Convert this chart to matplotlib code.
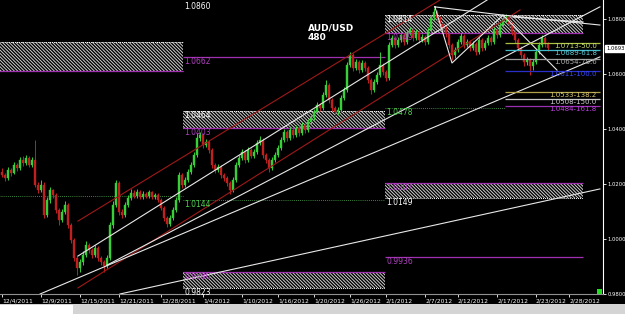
import matplotlib
matplotlib.use('Agg')
import matplotlib.pyplot as plt
from matplotlib.patches import Rectangle

plt.rcParams['hatch.linewidth'] = 0.7

# AUD/USD 480 min bars, 12/4/2011 - 2/22/2012
first_open = 1.0245
closes = [1.0233, 1.0222, 1.0251, 1.0240, 1.0269, 1.0258, 1.0287, 1.0276, 1.0294, 1.0269,
          1.0287, 1.0196, 1.0178, 1.0196, 1.0087, 1.0142, 1.0178, 1.0160, 1.0105, 1.0069,
          1.0098, 1.0124, 1.0051, 0.9996, 0.9931, 0.9894, 0.9916, 0.9942, 0.9978, 0.9960,
          0.9942, 0.9967, 0.9931, 0.9916, 0.9902, 0.9931, 1.0051, 1.0124, 1.0203, 1.0098,
          1.0087, 1.0124, 1.0149, 1.0167, 1.0156, 1.0171, 1.0153, 1.0164, 1.0156, 1.0171,
          1.0153, 1.0160, 1.0142, 1.0113, 1.0076, 1.0054, 1.0076, 1.0105, 1.0142, 1.0233,
          1.0196, 1.0214, 1.0244, 1.0269, 1.0305, 1.0367, 1.0378, 1.0342, 1.0353, 1.0324,
          1.0269, 1.0251, 1.0262, 1.0233, 1.0222, 1.0203, 1.0178, 1.0214, 1.0269, 1.0294,
          1.0316, 1.0287, 1.0324, 1.0302, 1.0316, 1.0349, 1.0360, 1.0305, 1.0287, 1.0258,
          1.0287, 1.0305, 1.0331, 1.0360, 1.0389, 1.0367, 1.0396, 1.0378, 1.0403, 1.0385,
          1.0414, 1.0396, 1.0425, 1.0440, 1.0462, 1.0487, 1.0476, 1.0524, 1.0560, 1.0505,
          1.0476, 1.0462, 1.0469, 1.0513, 1.0542, 1.0633, 1.0669, 1.0622, 1.0644, 1.0614,
          1.0640, 1.0622, 1.0578, 1.0542, 1.0571, 1.0596, 1.0633, 1.0607, 1.0585, 1.0705,
          1.0731, 1.0705, 1.0724, 1.0742, 1.0716, 1.0749, 1.0760, 1.0731, 1.0753, 1.0724,
          1.0734, 1.0716, 1.0760, 1.0804, 1.0825, 1.0804, 1.0782, 1.0767, 1.0745, 1.0705,
          1.0669, 1.0687, 1.0716, 1.0738, 1.0705, 1.0716, 1.0694, 1.0709, 1.0680, 1.0724,
          1.0694, 1.0713, 1.0731, 1.0716, 1.0760, 1.0742, 1.0778, 1.0796, 1.0804, 1.0782,
          1.0753, 1.0724, 1.0694, 1.0669, 1.0644, 1.0651, 1.0629, 1.0644, 1.0680, 1.0705,
          1.0731, 1.0709, 1.0693]
highs = [1.0258, 1.0240, 1.0262, 1.0258, 1.0280, 1.0276, 1.0298, 1.0302, 1.0305, 1.0302,
         1.0298, 1.0360, 1.0207, 1.0214, 1.0207, 1.0153, 1.0189, 1.0182, 1.0167, 1.0113,
         1.0109, 1.0138, 1.0131, 1.0058, 1.0003, 0.9938, 0.9927, 0.9956, 0.9993, 0.9985,
         0.9967, 0.9978, 0.9974, 0.9938, 0.9924, 0.9942, 1.0062, 1.0138, 1.0214, 1.0211,
         1.0109, 1.0135, 1.0160, 1.0182, 1.0178, 1.0182, 1.0178, 1.0175, 1.0171, 1.0178,
         1.0175, 1.0167, 1.0167, 1.0149, 1.0120, 1.0084, 1.0087, 1.0116, 1.0153, 1.0244,
         1.0240, 1.0225, 1.0255, 1.0280, 1.0316, 1.0385, 1.0389, 1.0385, 1.0364, 1.0360,
         1.0331, 1.0276, 1.0273, 1.0269, 1.0240, 1.0229, 1.0211, 1.0225, 1.0280, 1.0305,
         1.0327, 1.0324, 1.0334, 1.0331, 1.0327, 1.0360, 1.0374, 1.0367, 1.0313, 1.0294,
         1.0298, 1.0316, 1.0342, 1.0371, 1.0400, 1.0396, 1.0407, 1.0403, 1.0414, 1.0411,
         1.0425, 1.0422, 1.0436, 1.0451, 1.0473, 1.0498, 1.0495, 1.0535, 1.0578, 1.0567,
         1.0513, 1.0484, 1.0480, 1.0524, 1.0553, 1.0644, 1.0680, 1.0676, 1.0655, 1.0651,
         1.0651, 1.0647, 1.0629, 1.0585, 1.0582, 1.0607, 1.0680, 1.0640, 1.0614, 1.0716,
         1.0742, 1.0738, 1.0734, 1.0753, 1.0749, 1.0760, 1.0771, 1.0767, 1.0764, 1.0760,
         1.0745, 1.0742, 1.0771, 1.0814, 1.0840, 1.0833, 1.0811, 1.0789, 1.0775, 1.0753,
         1.0713, 1.0698, 1.0727, 1.0749, 1.0745, 1.0727, 1.0724, 1.0720, 1.0716, 1.0734,
         1.0731, 1.0724, 1.0742, 1.0738, 1.0771, 1.0767, 1.0789, 1.0807, 1.0818, 1.0811,
         1.0789, 1.0760, 1.0731, 1.0702, 1.0676, 1.0662, 1.0658, 1.0655, 1.0691, 1.0716,
         1.0742, 1.0738, 1.0716]
lows = [1.0225, 1.0211, 1.0215, 1.0229, 1.0236, 1.0247, 1.0251, 1.0265, 1.0269, 1.0262,
        1.0262, 1.0189, 1.0167, 1.0171, 1.0076, 1.0080, 1.0131, 1.0149, 1.0094, 1.0051,
        1.0062, 1.0091, 1.0040, 0.9985, 0.9920, 0.9869, 0.9880, 0.9905, 0.9934, 0.9949,
        0.9931, 0.9934, 0.9920, 0.9905, 0.9880, 0.9894, 0.9924, 1.0040, 1.0116, 1.0087,
        1.0076, 1.0080, 1.0116, 1.0142, 1.0149, 1.0149, 1.0145, 1.0145, 1.0149, 1.0149,
        1.0145, 1.0145, 1.0134, 1.0105, 1.0065, 1.0043, 1.0047, 1.0069, 1.0098, 1.0134,
        1.0185, 1.0189, 1.0207, 1.0236, 1.0262, 1.0298, 1.0356, 1.0331, 1.0334, 1.0313,
        1.0258, 1.0240, 1.0244, 1.0222, 1.0211, 1.0192, 1.0164, 1.0171, 1.0207, 1.0262,
        1.0287, 1.0276, 1.0280, 1.0294, 1.0294, 1.0309, 1.0342, 1.0294, 1.0276, 1.0244,
        1.0251, 1.0280, 1.0298, 1.0324, 1.0353, 1.0356, 1.0360, 1.0367, 1.0371, 1.0374,
        1.0378, 1.0385, 1.0389, 1.0418, 1.0433, 1.0455, 1.0465, 1.0469, 1.0516, 1.0495,
        1.0465, 1.0447, 1.0451, 1.0462, 1.0505, 1.0535, 1.0625, 1.0611, 1.0614, 1.0604,
        1.0607, 1.0611, 1.0567, 1.0527, 1.0535, 1.0564, 1.0589, 1.0596, 1.0575, 1.0578,
        1.0698, 1.0694, 1.0698, 1.0716, 1.0705, 1.0709, 1.0742, 1.0720, 1.0724, 1.0713,
        1.0716, 1.0705, 1.0709, 1.0753, 1.0796, 1.0793, 1.0771, 1.0756, 1.0734, 1.0694,
        1.0651, 1.0658, 1.0680, 1.0709, 1.0694, 1.0698, 1.0684, 1.0687, 1.0669, 1.0673,
        1.0684, 1.0687, 1.0705, 1.0705, 1.0709, 1.0731, 1.0734, 1.0771, 1.0789, 1.0771,
        1.0742, 1.0713, 1.0684, 1.0658, 1.0629, 1.0633, 1.0596, 1.0614, 1.0636, 1.0673,
        1.0698, 1.0698, 1.0684]
opens = [first_open] + closes[:-1]
last_price = 1.0693

date_bars = [0, 13, 26, 39, 53, 67, 80, 92, 104, 116, 128, 141, 152, 165, 178, 189]
date_labels = ['12/4/2011', '12/9/2011', '12/15/2011', '12/21/2011', '12/28/2011',
               '1/4/2012', '1/10/2012', '1/16/2012', '1/20/2012', '1/26/2012', '2/1/2012',
               '2/7/2012', '2/12/2012', '2/17/2012', '2/23/2012', '2/28/2012']
price_ticks = [0.98, 1.00, 1.02, 1.04, 1.06, 1.08]

# hatched zones: x0, x1 (bars), top, bottom
zone_x0 = [-1, 60.3, 127.7, 127.7, 60.3]
zone_x1 = [60.3, 127.7, 193.7, 193.7, 127.7]
zone_top = [1.0716, 1.0464, 1.0814, 1.0204, 0.9880]
zone_bot = [1.0611, 1.0403, 1.0749, 1.0149, 0.9823]
zone_purple = [1.0611, 1.0403, 1.0749, 1.0204, 0.9880]

# level labels: bar, price, text, colour
lvl_bar = [60.3, 60.3, 60.3, 60.3, 60.3, 60.3, 60.3, 127.7, 127.7, 127.7, 127.7, 127.7, 127.7]
lvl_price = [1.0860, 1.0662, 1.0464, 1.0403, 1.0142, 0.9880, 0.9823,
             1.0814, 1.0749, 1.0478, 1.0204, 1.0149, 0.9936]
lvl_text = ['1.0860', '1.0662', '1.0464', '1.0403', '1.0144', '0.9880', '0.9823',
            '1.0814', '1.0749', '1.0478', '1.0207', '1.0149', '0.9936']
lvl_color = ['white', '#b040c0', 'white', '#b040c0', '#50d050', '#b040c0', 'white',
             'white', '#b040c0', '#50d050', '#b040c0', 'white', '#b040c0']

# fibonacci levels
fib_price = [1.0713, 1.0689, 1.0654, 1.0611, 1.0533, 1.0508, 1.0484]
fib_text = ['1.0713-50.0', '1.0689-61.8', '1.0654-78.6', '1.0611-100.0',
            '1.0533-138.2', '1.0508-150.0', '1.0484-161.8']
fib_line_col = ['#a8c040', '#40b8c8', '#a0a0a0', '#2830c8', '#b0a048', '#c8c8c8', '#9830b0']
fib_text_col = ['#c8e070', '#60d0e0', '#b0b0b0', '#3848ff', '#d8c870', '#d0d0d0', '#c040e0']

# trend lines: (bar, price) pairs
red_lines = [[(25.3, 1.0065), (146, 1.0869)],
             [(25.3, 0.9822), (172.7, 1.0833)]]
white_lines = [[(25.3, 0.9938), (161.7, 1.0869)],
               [(12.7, 0.9800), (199.3, 1.0662)],
               [(35.0, 0.9905), (199.3, 1.0844)],
               [(39.3, 0.9800), (199.3, 1.0182)],
               [(144.3, 1.0844), (150, 1.0640), (167, 1.0814), (144.3, 1.0844)],
               [(167, 1.0814), (185, 1.0614)],
               [(167, 1.0814), (199.3, 1.0778)],
               [(170.3, 1.0807), (193.7, 1.0789)]]

fig = plt.figure(figsize=(6.25, 3.14), dpi=100, facecolor='black')
ax = fig.add_axes([0, 20 / 314, 603 / 625, 294 / 314])
ax.set_facecolor('black')
ax.set_xlim(-2 / 3, 601 / 3)
ax.set_ylim(0.98, 1.0869)

for x0, x1, t, b, p in zip(zone_x0, zone_x1, zone_top, zone_bot, zone_purple):
    ax.add_patch(Rectangle((x0, b), x1 - x0, t - b, facecolor='none', edgecolor='#d0d0d0',
                           hatch='\\' * 10, linewidth=0, zorder=1))
    ax.hlines([t, b], x0, x1, colors='white', linestyles=(0, (1, 1)), linewidth=0.7, zorder=1)
    ax.hlines(p, x0, x1, colors='#a030b0', linewidth=0.9, zorder=1)

ax.hlines(1.0662, 60.3, 127.7, colors='#a030b0', linewidth=0.9)
ax.hlines(0.9936, 127.7, 193.7, colors='#a030b0', linewidth=0.9)
ax.hlines(1.0158, -1, 60.3, colors='#50b050', linestyles=(0, (1, 1.5)), linewidth=0.6)
ax.hlines(1.0142, 60.3, 127.7, colors='#50b050', linestyles=(0, (1, 1.5)), linewidth=0.6)
ax.hlines(1.0478, 127.7, 167.7, colors='#50b050', linestyles=(0, (1, 1.5)), linewidth=0.6)

for b, p, t, c in zip(lvl_bar, lvl_price, lvl_text, lvl_color):
    ax.text(b + 0.4, p, t, color=c, fontsize=5.5, va='top', ha='left', zorder=5)

for p, t, lc, tc in zip(fib_price, fib_text, fib_line_col, fib_text_col):
    ax.hlines(p, 167.7, 199.3, colors=lc, linewidth=0.9, zorder=4)
    ax.text(198.3, p, t, color=tc, fontsize=5, va='top', ha='right', zorder=5)

# candles
for i, (o, h, l, c) in enumerate(zip(opens, highs, lows, closes)):
    col = '#38d038' if c >= o else '#c02020'
    ax.vlines(i, l, h, colors=col, linewidth=0.7, zorder=2)
    ax.bar(i, abs(c - o) if c != o else 0.0002, bottom=min(o, c), width=0.65,
           color=col, edgecolor=col, linewidth=0.3, zorder=2)

for ln in red_lines:
    xs, ys = zip(*ln)
    ax.plot(xs, ys, color='#a01818', linewidth=0.8, zorder=3)
for ln in white_lines:
    xs, ys = zip(*ln)
    ax.plot(xs, ys, color='#e8e8e8', linewidth=0.8, zorder=3)

ax.text(102, 1.0785, 'AUD/USD\n480', color='white', fontsize=6.5, fontweight='bold',
        va='top', ha='left', linespacing=1.1, zorder=5)

# axes
for s in ['left', 'top']:
    ax.spines[s].set_visible(False)
ax.spines['right'].set_color('white')
ax.spines['right'].set_linewidth(0.8)
ax.spines['bottom'].set_color('#909090')
ax.spines['bottom'].set_linewidth(0.8)
ax.yaxis.tick_right()
ax.set_yticks(price_ticks)
ax.set_yticklabels([f'{p:.4f}' for p in price_ticks])
ax.set_xticks(date_bars)
ax.set_xticklabels(date_labels)
ax.tick_params(axis='y', colors='white', labelsize=3.8, length=2.5, pad=1, width=0.6)
ax.tick_params(axis='x', colors='white', labelsize=4.3, length=2, pad=1, width=0.6)
for lbl in ax.get_xticklabels():
    lbl.set_ha('left')

ax.annotate(f'{last_price:.4f}', xy=(1.0, last_price), xycoords=('axes fraction', 'data'),
            xytext=(2.5, 0), textcoords='offset points', va='center', ha='left',
            fontsize=3.8, color='black',
            bbox=dict(boxstyle='square,pad=0.2', facecolor='white', edgecolor='white'))

# bottom scroll strip
fig.add_artist(Rectangle((0, 0), 1, 10 / 314, transform=fig.transFigure,
                         facecolor='#d4d4d4', edgecolor='none'))
fig.add_artist(Rectangle((0, 0), 73 / 625, 9 / 314, transform=fig.transFigure,
                         facecolor='white', edgecolor='none'))
fig.add_artist(Rectangle((597 / 625, 20 / 314), 5 / 625, 5 / 314, transform=fig.transFigure,
                         facecolor='#20e020', edgecolor='none'))

fig.savefig('out.png', dpi=100, facecolor='black')
